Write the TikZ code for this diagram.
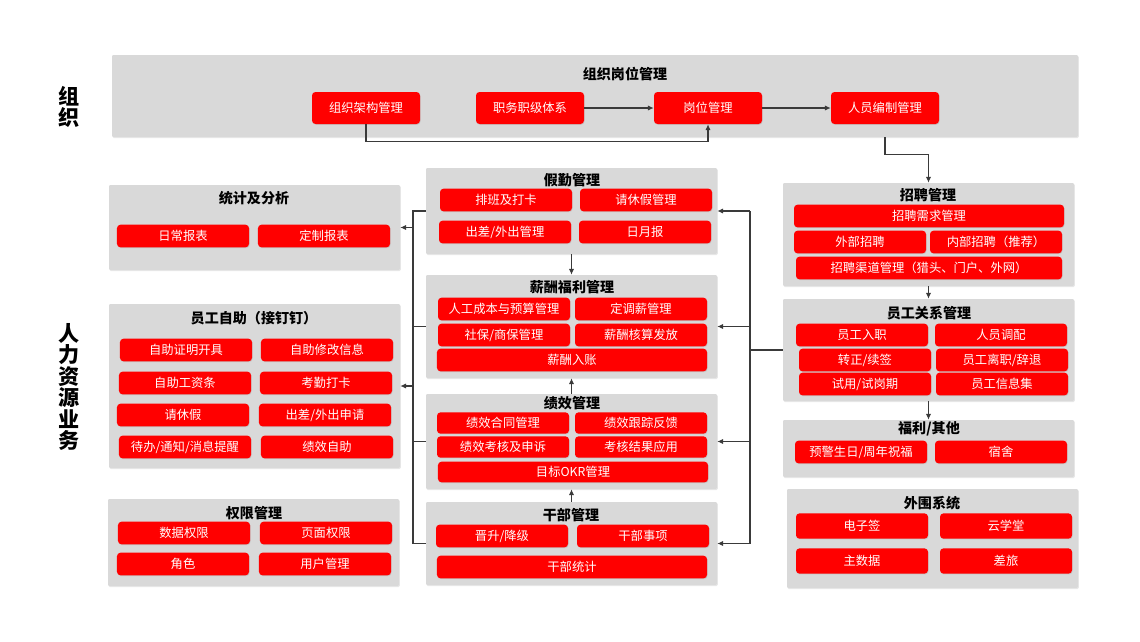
\documentclass[tikz,border=0pt]{standalone}
\usepackage{fontspec}
\setmainfont{Noto Sans CJK SC}
\usetikzlibrary{arrows.meta,fit,shadows}
\definecolor{panelgrey}{HTML}{D9D9D9}
\definecolor{cellred}{HTML}{FF0000}
\definecolor{ink}{HTML}{3A3A3A}

\begin{document}
\begin{tikzpicture}[x=0.03cm,y=-0.03cm,
 panel/.style={fill=panelgrey,inner sep=0pt,rounded corners=1pt,drop shadow={shadow xshift=0.7pt,shadow yshift=-0.9pt,opacity=0.18}},
 cell/.style={fill=cellred,text=white,rounded corners=3pt,inner sep=0pt,minimum width=3.96cm,minimum height=0.68cm,font=\fontsize{10.5}{12}\selectfont,drop shadow={shadow xshift=0.5pt,shadow yshift=-0.7pt,opacity=0.22}},
 wide/.style={cell,minimum width=8.1cm},
 topcell/.style={cell,minimum width=3.24cm,minimum height=0.96cm},
 title/.style={font=\fontsize{12}{14}\selectfont\bfseries},
 side/.style={font=\fontsize{18}{18.4}\selectfont\bfseries,align=center},
 wire/.style={draw=ink,line width=0.9pt},
 flow/.style={wire,-{Latex[length=5pt,width=4.5pt]}}]
\useasboundingbox (0,0) rectangle (1140,642);
% panels
\node[panel,fit={(112,55) (1078,137)}] (orgp) {};
\node[panel,fit={(109,185) (400,270)}] (stat) {};
\node[panel,fit={(109,304) (400,468)}] (selfsvc) {};
\node[panel,fit={(108,499) (399,586)}] (auth) {};
\node[panel,fit={(426,168) (717,254)}] (attend) {};
\node[panel,fit={(426,275) (717,378)}] (salary) {};
\node[panel,fit={(426,394) (717,489)}] (perf) {};
\node[panel,fit={(426,502) (717,585)}] (cadre) {};
\node[panel,fit={(783,183) (1074,286)}] (recruit) {};
\node[panel,fit={(783,299) (1074,401)}] (relation) {};
\node[panel,fit={(783,420) (1074,477)}] (welfare) {};
\node[panel,fit={(787,489) (1078,588)}] (periph) {};
% side labels
\node[side] (orgl) at (69,107) {组\\织};
\node[side] (hrl) at (69,387) {人\\力\\资\\源\\业\\务};
% organisation
\node[title] (orgt) at (625,74) {组织岗位管理};
\node[topcell] (arch) at (366,108) {组织架构管理};
\node[topcell] (grade) at (530,108) {职务职级体系};
\node[topcell] (post) at (708,108) {岗位管理};
\node[topcell] (staff) at (885,108) {人员编制管理};
% statistics
\node[title] (statt) at (254,198) {统计及分析};
\node[cell] (daily) at (183,236) {日常报表};
\node[cell] (custom) at (324,236) {定制报表};
% self service
\node[title] (selft) at (254,318) {员工自助（接钉钉）};
\node[cell] (cert) at (186,350) {自助证明开具};
\node[cell] (edit) at (327,350) {自助修改信息};
\node[cell] (slip) at (185,383) {自助工资条};
\node[cell] (clock) at (326,383) {考勤打卡};
\node[cell] (leave) at (183,415) {请休假};
\node[cell] (trip) at (325,415) {出差/外出申请};
\node[cell] (todo) at (185,447) {待办/通知/消息提醒};
\node[cell] (perfself) at (327,447) {绩效自助};
% permissions
\node[title] (autht) at (254,513) {权限管理};
\node[cell] (dataperm) at (184,533) {数据权限};
\node[cell] (pageperm) at (326,533) {页面权限};
\node[cell] (role) at (183,564) {角色};
\node[cell] (user) at (325,564) {用户管理};
% attendance
\node[title] (attendt) at (572,180) {假勤管理};
\node[cell] (shift) at (506,200) {排班及打卡};
\node[cell] (leavemg) at (646,200) {请休假管理};
\node[cell] (tripmg) at (505,232) {出差/外出管理};
\node[cell] (report) at (645,232) {日月报};
% salary
\node[title] (salaryt) at (572,287) {薪酬福利管理};
\node[cell] (budget) at (504,309) {人工成本与预算管理};
\node[cell] (adjust) at (641,309) {定调薪管理};
\node[cell] (insure) at (504,335) {社保/商保管理};
\node[cell] (payroll) at (641,335) {薪酬核算发放};
\node[wide] (booking) at (572,360) {薪酬入账};
% performance
\node[title] (perft) at (572,403) {绩效管理};
\node[cell,minimum height=0.64cm] (contract) at (503,423) {绩效合同管理};
\node[cell,minimum height=0.64cm] (track) at (641,423) {绩效跟踪反馈};
\node[cell,minimum height=0.64cm] (appeal) at (503,447) {绩效考核及申诉};
\node[cell,minimum height=0.64cm] (apply) at (641,447) {考核结果应用};
\node[wide,minimum height=0.62cm] (okr) at (573,472) {目标OKR管理};
% cadres
\node[title] (cadret) at (571,515) {干部管理};
\node[cell] (promote) at (502,536) {晋升/降级};
\node[cell] (matter) at (643,536) {干部事项};
\node[wide] (cadrestat) at (572,567) {干部统计};
% recruiting
\node[title] (recruitt) at (928,195) {招聘管理};
\node[wide] (demand) at (929,216) {招聘需求管理};
\node[cell] (external) at (860,242) {外部招聘};
\node[cell] (internal) at (996,242) {内部招聘（推荐）};
\node[wide,minimum width=7.98cm] (channel) at (929,268) {招聘渠道管理（猎头、门户、外网）};
% employee relations
\node[title] (relationt) at (929,313) {员工关系管理};
\node[cell] (onboard) at (862,335) {员工入职};
\node[cell] (transfer) at (1001,335) {人员调配};
\node[cell] (renew) at (865,360) {转正/续签};
\node[cell] (quit) at (1002,360) {员工离职/辞退};
\node[cell] (trial) at (865,384) {试用/试岗期};
\node[cell] (info) at (1002,384) {员工信息集};
% welfare
\node[title] (welfaret) at (929,429) {福利/其他};
\node[cell] (birthday) at (861,452) {预警生日/周年祝福};
\node[cell] (dorm) at (1001,452) {宿舍};
% peripheral systems
\node[title] (peripht) at (932,503) {外围系统};
\node[cell,minimum height=0.76cm] (esign) at (862,526) {电子签};
\node[cell,minimum height=0.76cm] (learn) at (1006,526) {云学堂};
\node[cell,minimum height=0.76cm] (master) at (862,561) {主数据};
\node[cell,minimum height=0.76cm] (travel) at (1006,561) {差旅};
% connectors
\draw[flow] (grade) -- (post);
\draw[flow] (post) -- (staff);
\draw[flow] (arch.south) -- ++(0,17) -| (post.south);
\draw[flow] (orgp.south -| staff) -- ++(0,17) -| (recruit.north);
\draw[flow] (attend) -- (salary);
\draw[flow] (perf) -- (salary);
\draw[flow] (cadre) -- (perf);
\draw[flow] (recruit) -- (relation);
\draw[flow] (relation) -- (welfare);
\coordinate (lbus) at (413,211);
\coordinate (rbus) at (750,211);
\draw[wire] (attend.west) -- (lbus |- attend.west) -- (lbus |- cadre.west) -- (cadre.west);
\draw[wire] (salary.west) -- (lbus |- salary.west);
\draw[wire] (perf.west) -- (lbus |- perf.west);
\draw[flow] (lbus |- stat.east) -- (stat.east);
\draw[flow] (lbus |- selfsvc.east) -- (selfsvc.east);
\draw[wire] (rbus |- attend.east) -- (rbus |- cadre.east);
\draw[wire] (relation.west) -- (rbus |- relation.west);
\draw[flow] (rbus |- attend.east) -- (attend.east);
\draw[flow] (rbus |- salary.east) -- (salary.east);
\draw[flow] (rbus |- perf.east) -- (perf.east);
\draw[flow] (rbus |- cadre.east) -- (cadre.east);
\end{tikzpicture}
\end{document}
